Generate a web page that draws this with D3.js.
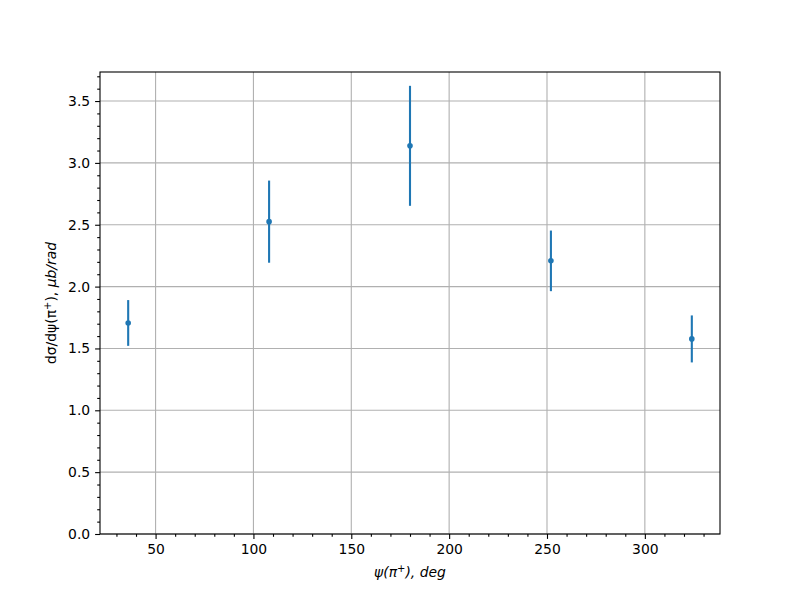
<!DOCTYPE html>
<html>
<head>
<meta charset="utf-8">
<script src="https://cdn.jsdelivr.net/npm/d3@7"></script>
<style>
  body { margin: 0; background: #fff; }
  text { font-family: "DejaVu Sans", sans-serif; }
</style>
</head>
<body>
<svg id="chart" width="800" height="600"></svg>
<script>
const psi = [36, 108, 180, 252, 324];
const dsigma = [1.706, 2.525, 3.138, 2.208, 1.577];
const errors = [0.185, 0.332, 0.485, 0.245, 0.19];
const xTicks = [50, 100, 150, 200, 250, 300];
const yTicks = [0.0, 0.5, 1.0, 1.5, 2.0, 2.5, 3.0, 3.5];

const svg = d3.select("#chart");
const L = 100, R = 720, T = 72, B = 534;
const color = "#1f77b4";

const x = d3.scaleLinear().domain([21.6, 338.4]).range([L, R]);
const yTop = d3.max(dsigma.map((d, i) => d + errors[i]));
const yBot = d3.min(dsigma.map((d, i) => d - errors[i]));
const y = d3.scaleLinear().domain([0, yTop + 0.05 * (yTop - yBot)]).range([B, T]);

// grid
const grid = svg.append("g");
grid.selectAll(".gx").data(xTicks).enter().append("line")
  .attr("x1", d => x(d)).attr("x2", d => x(d)).attr("y1", T).attr("y2", B)
  .attr("stroke", "#b0b0b0").attr("stroke-width", 1.1);
grid.selectAll(".gy").data(yTicks).enter().append("line")
  .attr("y1", d => y(d)).attr("y2", d => y(d)).attr("x1", L).attr("x2", R)
  .attr("stroke", "#b0b0b0").attr("stroke-width", 1.1);

// axes
const xMinor = d3.range(30, 340, 10).filter(v => v % 50 !== 0);
const yMinor = d3.range(1, 38).map(v => v / 10).filter(v => Math.abs(v * 2 - Math.round(v * 2)) > 1e-6);

const xAxis = svg.append("g").attr("transform", `translate(0,${B})`)
  .call(d3.axisBottom(x).tickValues(xTicks).tickFormat(d3.format("d")).tickSize(4.9).tickPadding(4.9));
const xAxisMinor = svg.append("g").attr("transform", `translate(0,${B})`)
  .call(d3.axisBottom(x).tickValues(xMinor).tickFormat("").tickSize(2.8));
const yAxis = svg.append("g").attr("transform", `translate(${L},0)`)
  .call(d3.axisLeft(y).tickValues(yTicks).tickFormat(d3.format(".1f")).tickSize(4.9).tickPadding(4.9));
const yAxisMinor = svg.append("g").attr("transform", `translate(${L},0)`)
  .call(d3.axisLeft(y).tickValues(yMinor).tickFormat("").tickSize(2.8));

[xAxis, xAxisMinor, yAxis, yAxisMinor].forEach(g => {
  g.select(".domain").remove();
  g.selectAll(".tick line").attr("stroke", "#000").attr("stroke-width", 1.1);
  g.selectAll("text").attr("font-size", "13.9px").attr("fill", "#000")
    .attr("font-family", "DejaVu Sans, sans-serif");
});

// frame
svg.append("rect").attr("x", L).attr("y", T).attr("width", R - L).attr("height", B - T)
  .attr("fill", "none").attr("stroke", "#000").attr("stroke-width", 1.1);

// error bars
const pts = svg.append("g");
pts.selectAll(".err").data(psi).enter().append("line")
  .attr("x1", (d) => x(d)).attr("x2", (d) => x(d))
  .attr("y1", (d, i) => y(dsigma[i] - errors[i]))
  .attr("y2", (d, i) => y(dsigma[i] + errors[i]))
  .attr("stroke", color).attr("stroke-width", 2.1);
pts.selectAll(".pt").data(psi).enter().append("circle")
  .attr("cx", d => x(d)).attr("cy", (d, i) => y(dsigma[i])).attr("r", 2.8)
  .attr("fill", color);

// labels
const xl = svg.append("text").attr("x", (L + R) / 2).attr("y", 577)
  .attr("text-anchor", "middle").attr("font-size", "13.9px");
xl.append("tspan").attr("font-style", "italic").text("ψ(π");
xl.append("tspan").attr("font-size", "10px").attr("dy", -5).text("+");
xl.append("tspan").attr("dy", 5).attr("font-style", "italic").text("), deg");

const yl = svg.append("text")
  .attr("transform", `translate(56,${(T + B) / 2}) rotate(-90)`)
  .attr("text-anchor", "middle").attr("font-size", "13.9px");
yl.append("tspan").text("dσ/dψ(π");
yl.append("tspan").attr("font-size", "10px").attr("dy", -5).text("+");
yl.append("tspan").attr("dy", 5).text("), ");
yl.append("tspan").attr("font-style", "italic").text("μb/rad");
</script>
</body>
</html>
